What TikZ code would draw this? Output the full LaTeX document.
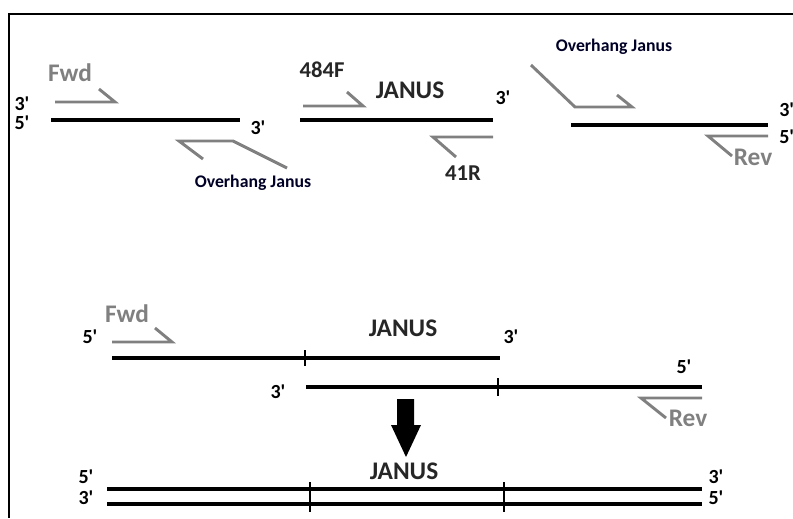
\documentclass[tikz,border=0pt]{standalone}
\usepackage{fontspec}
\setmainfont{Carlito}[Ligatures=TeXOff]
\begin{document}
\begin{tikzpicture}[x=0.75pt,y=-0.75pt,
  frame/.style={line width=1.6pt,black},
  strand/.style={line width=2.3pt,black},
  primer/.style={line width=2.2pt,color=primergray,line join=miter},
  tick/.style={line width=2pt,black},
  endlab/.style={font=\bfseries\fontsize{15}{15}\selectfont,inner sep=0pt,text=black},
  genelab/.style={font=\bfseries\fontsize{19}{19}\selectfont,inner sep=0pt,text=black!85},
  primlab/.style={font=\bfseries\fontsize{17}{17}\selectfont,inner sep=0pt,text=black!85},
  graylab/.style={font=\bfseries\fontsize{19}{19}\selectfont,inner sep=0pt,text=primergray},
  ovlab/.style={font=\bfseries\fontsize{13.3}{14}\selectfont,inner sep=0pt,text=black!85!blue}
]
\definecolor{primergray}{RGB}{128,128,128}
\useasboundingbox (0,0) rectangle (793,518);
\clip (0,0) rectangle (793,518);

% outer frame (top and left edges)
\coordinate (frTR) at (793,14);
\coordinate (frTL) at (9,14);
\coordinate (frBL) at (9,518);
\draw[frame] (frTR) -- (frTL) -- (frBL);

% ---------- upstream fragment ----------
\node[endlab] (a3) at (22,104) {3'};
\node[endlab] (a5) at (22,123) {5'};
\coordinate (aL) at (51,120);
\coordinate (aR) at (240,120);
\draw[strand] (aL) -- (aR);
\node[endlab] (a3r) at (258,128) {3'};
\node[graylab] (fwdA) at (70,73) {Fwd};
\coordinate (pA1) at (55,102);
\coordinate (pA2) at (115,102);
\coordinate (pA3) at (99,89);
\draw[primer] (pA1) -- (pA2) -- (pA3);
\coordinate (oA1) at (287,168);
\coordinate (oA2) at (233,141);
\coordinate (oA3) at (179,141);
\coordinate (oA4) at (203,159);
\draw[primer] (oA1) -- (oA2) -- (oA3) -- (oA4);
\node[ovlab] (ovA) at (253,183) {Overhang Janus};

% ---------- JANUS fragment ----------
\node[primlab] (l484) at (322,70) {484F};
\node[genelab] (janA) at (410,90) {JANUS};
\node[endlab] (b3) at (503,98) {3'};
\coordinate (bL) at (300,120);
\coordinate (bR) at (493,120);
\draw[strand] (bL) -- (bR);
\coordinate (pB1) at (303,106);
\coordinate (pB2) at (363,106);
\coordinate (pB3) at (347,92);
\draw[primer] (pB1) -- (pB2) -- (pB3);
\coordinate (rB1) at (493,137);
\coordinate (rB2) at (433,137);
\coordinate (rB3) at (456,157);
\draw[primer] (rB1) -- (rB2) -- (rB3);
\node[primlab] (l41) at (463,173) {41R};

% ---------- downstream fragment ----------
\node[ovlab] (ovC) at (614,47) {Overhang Janus};
\coordinate (oC1) at (531,65);
\coordinate (oC2) at (575,107);
\coordinate (oC3) at (632,107);
\coordinate (oC4) at (617,95);
\draw[primer] (oC1) -- (oC2) -- (oC3) -- (oC4);
\coordinate (cL) at (571,125);
\coordinate (cR) at (768,125);
\draw[strand] (cL) -- (cR);
\node[endlab,anchor=west] (c3) at (779,110) {3'};
\node[endlab,anchor=west] (c5) at (779,137) {5'};
\coordinate (rC1) at (768,136);
\coordinate (rC2) at (708,136);
\coordinate (rC3) at (732,156);
\draw[primer] (rC1) -- (rC2) -- (rC3);
\node[graylab] (revC) at (753,157) {Rev};

% ---------- annealed overlap ----------
\node[graylab] (fwdD) at (127,314) {Fwd};
\node[endlab] (d5) at (90,337) {5'};
\coordinate (pD1) at (112,342);
\coordinate (pD2) at (172,342);
\coordinate (pD3) at (155,328);
\draw[primer] (pD1) -- (pD2) -- (pD3);
\node[genelab] (janD) at (403,328) {JANUS};
\node[endlab] (d3r) at (511,337) {3'};
\coordinate (dL) at (112,358);
\coordinate (dR) at (500,358);
\draw[strand] (dL) -- (dR);
\coordinate (dT1) at (305,350);
\coordinate (dT2) at (305,366);
\draw[tick] (dT1) -- (dT2);
\node[endlab] (e3) at (278,392) {3'};
\coordinate (eL) at (306,387);
\coordinate (eR) at (702,387);
\draw[strand] (eL) -- (eR);
\coordinate (eT1) at (498,378);
\coordinate (eT2) at (498,396);
\draw[tick] (eT1) -- (eT2);
\node[endlab] (e5) at (684,367) {5'};
\coordinate (rE1) at (702,398);
\coordinate (rE2) at (641,398);
\coordinate (rE3) at (666,418);
\draw[primer] (rE1) -- (rE2) -- (rE3);
\node[graylab] (revE) at (688,418) {Rev};

% ---------- block arrow ----------
\coordinate (arTip) at (406,457);
\fill[black] (397,399) -- (414,399) -- (414,425) -- (421,425) -- (arTip)
  -- (391,425) -- (397,425) -- cycle;

% ---------- final product ----------
\node[genelab] (janF) at (404,471) {JANUS};
\node[endlab] (f5) at (86,477) {5'};
\node[endlab] (f3) at (86,498) {3'};
\node[endlab] (g3) at (716,477) {3'};
\node[endlab] (g5) at (716,498) {5'};
\coordinate (fL1) at (107,489);
\coordinate (fR1) at (702,489);
\coordinate (fL2) at (107,504);
\coordinate (fR2) at (702,504);
\draw[strand] (fL1) -- (fR1);
\draw[strand] (fL2) -- (fR2);
\coordinate (fT1) at (310,482);
\coordinate (fT2) at (310,512);
\coordinate (fT3) at (504,482);
\coordinate (fT4) at (504,512);
\draw[tick] (fT1) -- (fT2);
\draw[tick] (fT3) -- (fT4);
\end{tikzpicture}
\end{document}
